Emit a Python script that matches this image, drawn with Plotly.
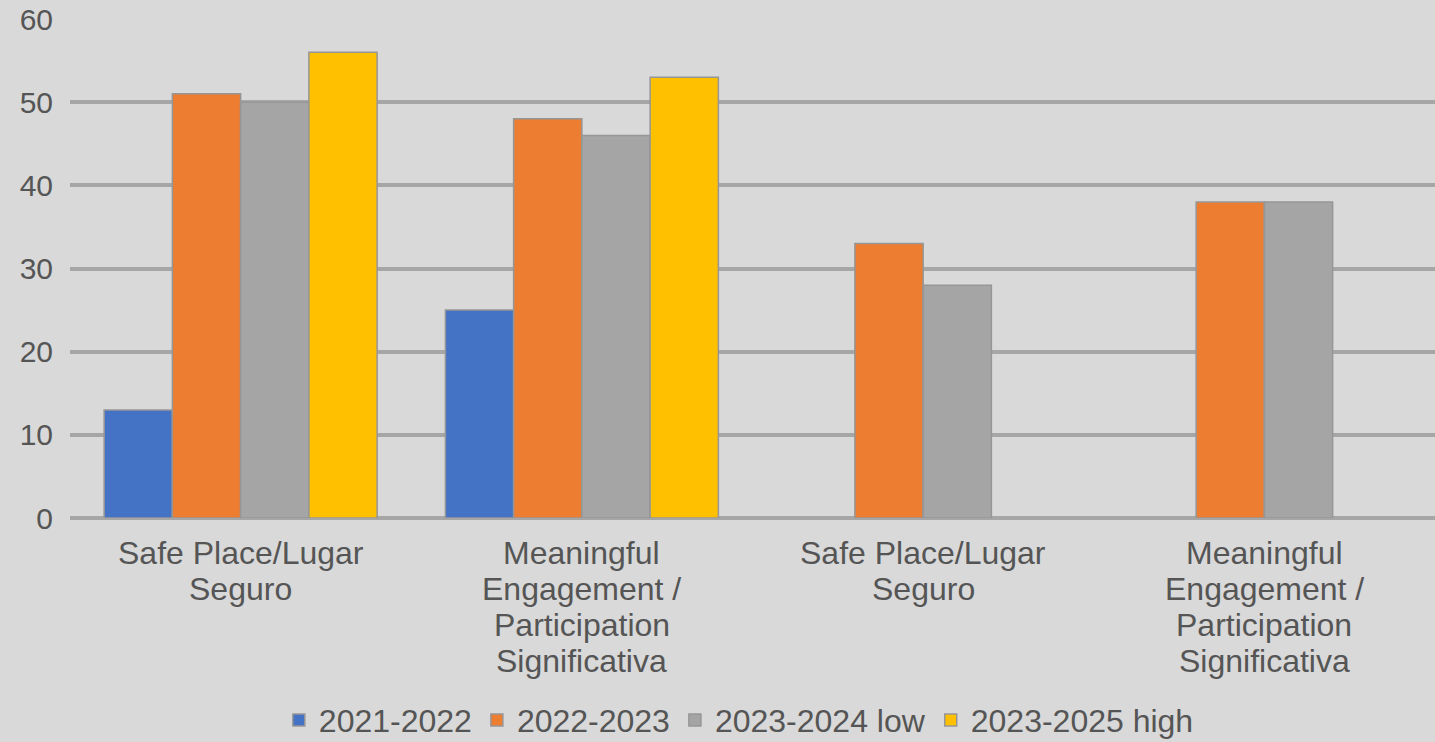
import plotly.graph_objects as go

categories = [["Safe Place/Lugar", "Seguro"],
              ["Meaningful", "Engagement /", "Participation", "Significativa"],
              ["Safe Place/Lugar", "Seguro"],
              ["Meaningful", "Engagement /", "Participation", "Significativa"]]
series_names = ["2021-2022", "2022-2023", "2023-2024 low", "2023-2025 high"]
s2021_2022 = [13, 25, None, None]
s2022_2023 = [51, 48, 33, 38]
s2023_2024_low = [50, 46, 28, 38]
s2023_2025_high = [56, 53, None, None]
y_ticks = [0, 10, 20, 30, 40, 50, 60]

colors = ["#4472C4", "#ED7D31", "#A5A5A5", "#FFC000"]
values = [s2021_2022, s2022_2023, s2023_2024_low, s2023_2025_high]
xpos = list(range(len(categories)))

font_fam = "Liberation Sans, Arial, sans-serif"
text_col = "#555555"

fig = go.Figure()
for name, vals, col in zip(series_names, values, colors):
    fig.add_trace(go.Bar(x=xpos, y=vals, name=name,
                         marker=dict(color=col, line=dict(color="#969696", width=1.5))))

# category labels: one annotation per line for tight line spacing
annotations = []
for xi, lines in zip(xpos, categories):
    for k, line in enumerate(lines):
        annotations.append(dict(x=xi, xref="x", y=0, yref="paper", text=line,
                                showarrow=False, xanchor="center", yanchor="middle",
                                yshift=-35 - k * 36,
                                font=dict(family=font_fam, size=32, color=text_col)))

fig.update_layout(
    width=1435, height=742,
    paper_bgcolor="#D9D9D9", plot_bgcolor="#D9D9D9",
    margin=dict(l=70, r=0, t=19, b=224, autoexpand=False),
    barmode="group", bargap=0.2, bargroupgap=0,
    font=dict(family=font_fam, color=text_col, size=30),
    showlegend=True,
    legend=dict(orientation="h", x=0.49, xanchor="center", y=-0.405, yanchor="middle",
                font=dict(family=font_fam, size=32, color=text_col), itemwidth=30,
                bgcolor="rgba(0,0,0,0)", traceorder="normal"),
    annotations=annotations,
    xaxis=dict(range=[-0.5, len(categories) - 0.5], showgrid=False, zeroline=False,
               showline=False, ticks="", showticklabels=False),
    yaxis=dict(range=[0, 60], tickvals=y_ticks, showgrid=True, gridcolor="#A6A6A6",
               gridwidth=3.5, zeroline=True, zerolinecolor="#A6A6A6", zerolinewidth=3.5,
               showline=False, ticks="", ticklabelstandoff=16,
               tickfont=dict(family=font_fam, size=30, color=text_col)),
)
fig.write_html("out.html")
